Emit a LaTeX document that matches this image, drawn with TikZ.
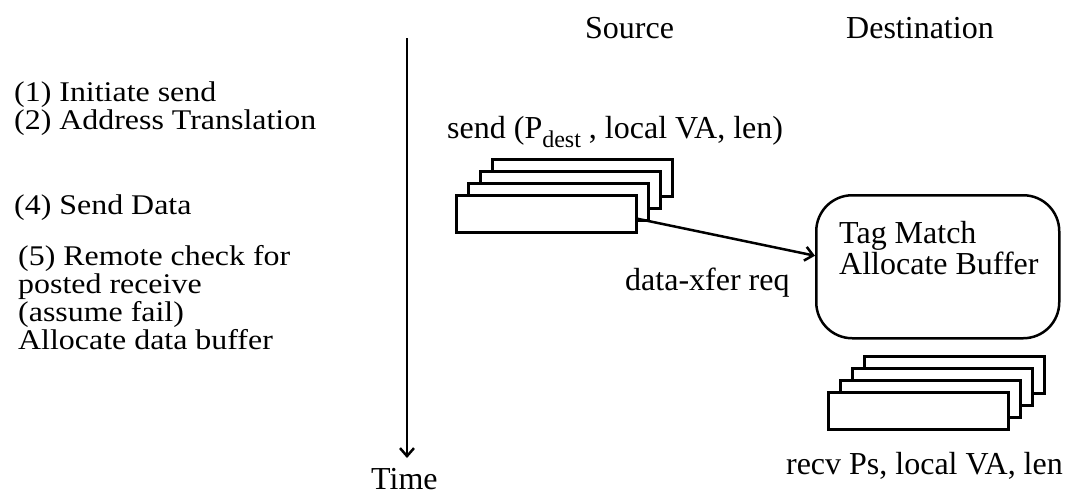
\documentclass[tikz,border=0pt]{standalone}
\usepackage{fontspec}
\usepackage{graphicx}
\setmainfont{Liberation Serif}
\usetikzlibrary{arrows.meta}
\newcommand{\widetxt}[1]{\scalebox{1.12}[1]{#1}}
\begin{document}
\begin{tikzpicture}[x=1pt,y=-1pt,
  lbl/.style={inner sep=0pt,anchor=base west,font=\fontsize{32}{32}\selectfont},
  note/.style={inner sep=0pt,anchor=base west,font=\fontsize{28.5}{28}\selectfont},
  card/.style={draw,fill=white,line width=2.5pt,minimum width=180pt,minimum height=37pt,inner sep=0pt,anchor=north west},
  tip/.style={-{Straight Barb[length=8pt,width=14pt,line width=2.5pt]}}]
\useasboundingbox (0,0) rectangle (1077,496);
% left notes
\node[note] (n1) at (14,101) {\widetxt{(1) Initiate send}};
\node[note] (n2) at (14,129) {\widetxt{(2) Address Translation}};
\node[note] (n4) at (14,214) {\widetxt{(4) Send Data}};
\node[note] (n5a) at (18,265) {\widetxt{(5) Remote check for}};
\node[note] (n5b) at (18,293) {\widetxt{posted receive}};
\node[note] (n5c) at (18,321) {\widetxt{(assume fail)}};
\node[note] (n5d) at (18,349) {\widetxt{Allocate data buffer}};
% time axis
\coordinate (t0) at (407,38);
\coordinate (t1) at (407,458);
\draw[line width=2.5pt,tip] (t0) -- (t1);
\node[lbl] (time) at (371,489) {Time};
% headers
\node[lbl] (src) at (585,38) {Source};
\node[lbl] (dst) at (846,38) {Destination};
% send stack
\node[lbl] (sendlbl) at (447,138) {send (P{\fontsize{24}{24}\selectfont\raisebox{-9pt}{dest}} , local VA, len)};
\node[card] (s3) at (491,158) {};
\node[card] (s2) at (479,170) {};
\node[card] (s1) at (467,182) {};
\node[card] (s0) at (455,194) {};
% tag match box
\node[draw,line width=2.5pt,rounded corners=36pt,minimum width=243pt,minimum height=143pt,anchor=north west,inner sep=0pt] (tag) at (815,194) {};
\node[lbl] (tm1) at (839,243) {Tag Match};
\node[lbl] (tm2) at (839,274) {Allocate Buffer};
% arrow
\draw[line width=2.5pt,tip] ([yshift=-5pt]s0.east) -- ([yshift=11pt]tag.west);
\node[lbl] (xfer) at (625,290) {data-xfer req};
% recv stack
\node[card] (r3) at (863,355) {};
\node[card] (r2) at (851,367) {};
\node[card] (r1) at (839,379) {};
\node[card] (r0) at (827,391) {};
\node[lbl,anchor=base east] (recvlbl) at (1063,474) {recv Ps, local VA, len};
\end{tikzpicture}
\end{document}
